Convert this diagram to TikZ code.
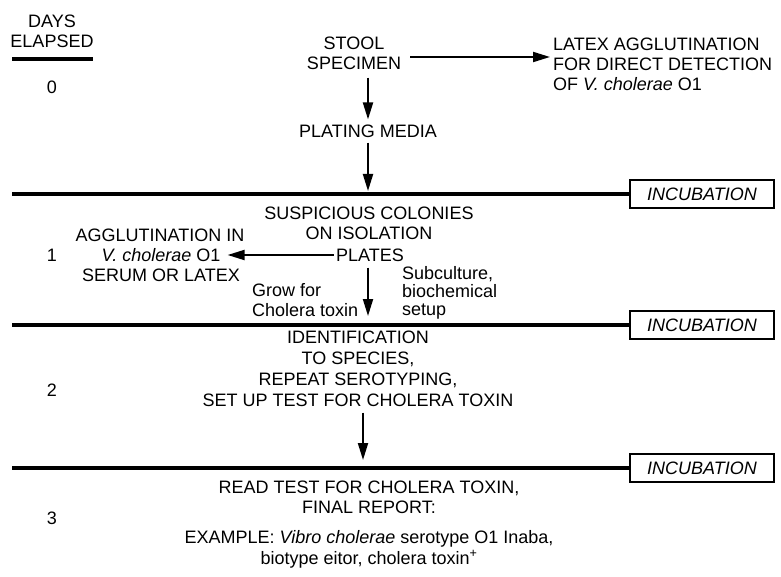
\documentclass[tikz,border=0pt]{standalone}
\usepackage{fontspec}
\setmainfont{Liberation Sans}
\usetikzlibrary{arrows.meta,calc}
\begin{document}
\begin{tikzpicture}[x=1pt,y=-1pt,
  txt/.style={inner sep=0pt, font=\fontsize{18}{20}\selectfont, align=center},
  arr/.style={line width=2pt, -{Triangle[length=17pt,width=10pt]}},
  rule/.style={line width=3.4pt},
  incbox/.style={draw, line width=2.8pt, minimum width=144pt, minimum height=28pt, inner sep=0pt, font=\fontsize{18}{20}\selectfont\itshape}]
\useasboundingbox (0,0) rectangle (781,577);

% days column
\node[txt] (days) at (52,31) {DAYS\\ELAPSED};
\coordinate (u1) at (12,59);
\coordinate (u2) at (93,59);
\draw[line width=3.4pt] (u1) -- (u2);
\node[txt] (d0) at (52,87) {0};
\node[txt] (d1) at (52,255) {1};
\node[txt] (d2) at (52,390) {2};
\node[txt] (d3) at (52,518) {3};

% day 0
\node[txt] (stool) at (354,53) {STOOL\\SPECIMEN};
\node[txt, align=left, anchor=west] (latex) at (553,64) {LATEX AGGLUTINATION\\FOR DIRECT DETECTION\\OF \textit{V. cholerae} O1};
\node[txt] (plating) at (368,131) {PLATING MEDIA};
\draw[arr] ([shift={(9,4)}]stool.east) -- ([shift={(-3,-7)}]latex.west);
\draw[arr] ($(stool.south -| plating.north)+(0,8)$) -- ($(plating.north)+(0,-5)$);

% line 1
\coordinate (l1) at (12,194);
\node[incbox] (inc1) at (702,194) {INCUBATION};
\draw[rule] (l1) -- (inc1.west);
\draw[arr] ($(plating.south)+(0,5)$) -- ($(plating.south |- l1)+(0,-3)$);

% day 1
\node[txt] (susp) at (369,223.5) {SUSPICIOUS COLONIES\\ON ISOLATION};
\node[txt] (plates) at (370,255) {PLATES};
\node[txt] (aggl) at (160,235) {AGGLUTINATION IN};
\node[txt] (vch) at (161,255) {\textit{V. cholerae} O1};
\node[txt] (serum) at (161,275) {SERUM OR LATEX};
\draw[arr, shorten <=2pt, shorten >=7pt] (plates.west) -- (vch.east);
\node[txt, align=left, anchor=west] (grow) at (252,300.5) {Grow for\\Cholera toxin};
\node[txt, align=left, anchor=west, font=\fontsize{18}{18}\selectfont] (subc) at (402,293) {Subculture,\\biochemical\\setup};

% line 2
\coordinate (l2) at (12,325);
\node[incbox] (inc2) at (702,325) {INCUBATION};
\draw[rule] (l2) -- (inc2.west);
\draw[arr] ($(plates.south)+(-2,6)$) -- ($(plates.south |- l2)+(-2,-9)$);

% day 2
\node[txt, font=\fontsize{18}{21}\selectfont] (ident) at (358,368.5) {IDENTIFICATION\\TO SPECIES,\\REPEAT SEROTYPING,\\SET UP TEST FOR CHOLERA TOXIN};

% line 3
\coordinate (l3) at (12,468);
\node[incbox] (inc3) at (702,468) {INCUBATION};
\draw[rule] (l3) -- (inc3.west);
\draw[arr] ($(ident.south)+(5,6)$) -- ($(ident.south |- l3)+(5,-8)$);

% day 3
\node[txt] (read) at (369,497) {READ TEST FOR CHOLERA TOXIN,\\FINAL REPORT:};
\node[txt, font=\fontsize{18}{21}\selectfont] (example) at (369,549) {EXAMPLE: \textit{Vibro cholerae} serotype O1 Inaba,\\biotype eitor, cholera toxin\textsuperscript{+}};
\end{tikzpicture}
\end{document}
